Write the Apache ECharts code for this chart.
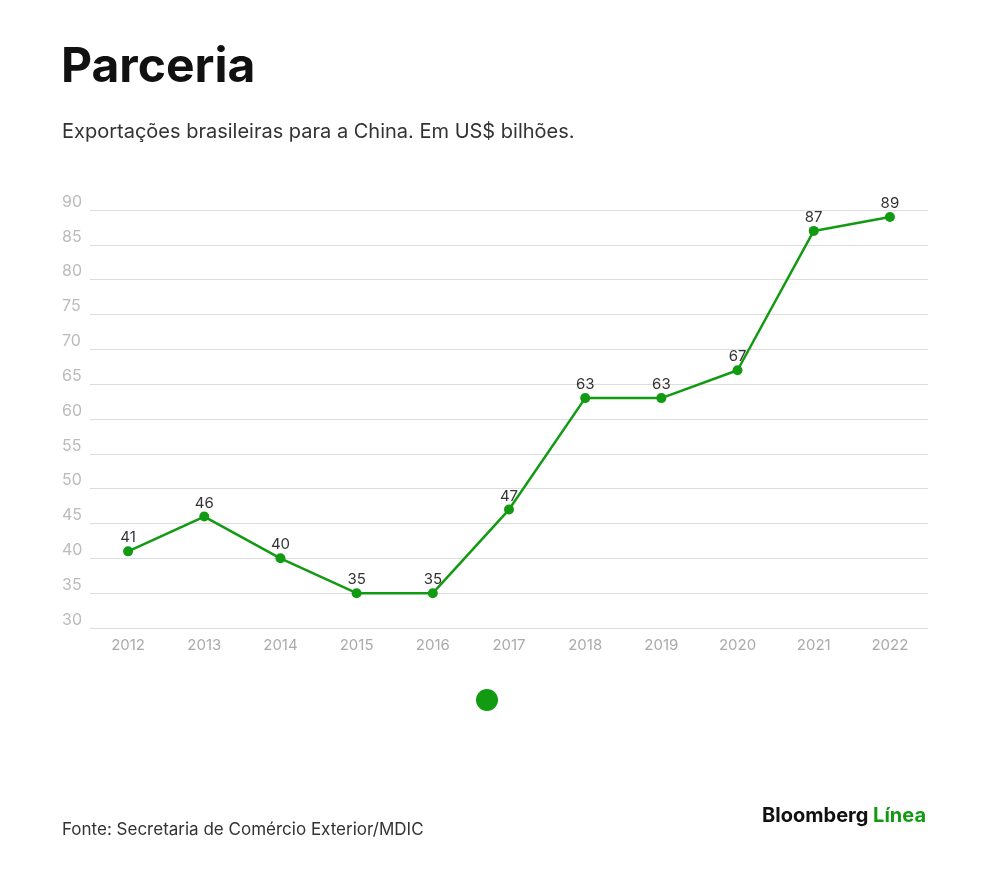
<!DOCTYPE html>
<html><head><meta charset="utf-8">
<script src="https://cdn.jsdelivr.net/npm/echarts@6/dist/echarts.min.js"></script>
<style>html,body{margin:0;background:#fff}#c{width:1000px;height:872px}</style>
</head><body><div id="c"></div>
<script>
var years = ['2012','2013','2014','2015','2016','2017','2018','2019','2020','2021','2022'];
var exports = [41, 46, 40, 35, 35, 47, 63, 63, 67, 87, 89];
var green = '#129b12';
var chart = echarts.init(document.getElementById('c'));
chart.setOption({
  textStyle: {fontFamily: 'Inter'},
  title: [
    {text: 'Parceria', left: 61, top: 44, padding: 0, textStyle: {fontSize: 48, fontWeight: 'bold', color: '#111', fontFamily: 'Inter'}},
    {text: 'Exportações brasileiras para a China. Em US$ bilhões.', left: 62, top: 122, padding: 0, textStyle: {fontSize: 20, fontWeight: 'normal', color: '#333', fontFamily: 'Inter'}},
    {text: 'Fonte: Secretaria de Comércio Exterior/MDIC', left: 62, top: 821, padding: 0, textStyle: {fontSize: 17, fontWeight: 'normal', color: '#333', fontFamily: 'Inter'}},
    {text: 'Bloomberg {g|Línea}', right: 74, top: 806, padding: 0, textStyle: {fontSize: 20, fontWeight: 'bold', color: '#111', fontFamily: 'Inter', rich: {g: {fontSize: 20, fontWeight: 'bold', color: green, fontFamily: 'Inter'}}}}
  ],
  legend: {left: 471, top: 684, icon: 'circle', itemWidth: 22, itemHeight: 22, formatter: function () { return ''; }, data: ['Exportações']},
  grid: {left: 90, right: 72, top: 210, bottom: 244},
  xAxis: {type: 'category', data: years, boundaryGap: true,
    axisLine: {show: false}, axisTick: {show: false},
    axisLabel: {color: '#aaa', fontSize: 15, margin: 10}},
  yAxis: {type: 'value', min: 30, max: 90, interval: 5,
    splitLine: {lineStyle: {color: '#ddd'}},
    axisLabel: {color: '#bbb', fontSize: 16, align: 'left', verticalAlign: 'bottom', margin: 28}},
  series: [{name: 'Exportações', type: 'line', data: exports, color: green,
    symbol: 'circle', symbolSize: 10, lineStyle: {width: 2.5},
    label: {show: true, position: 'top', color: '#333', fontSize: 15, distance: 1}}]
});
</script></body></html>
